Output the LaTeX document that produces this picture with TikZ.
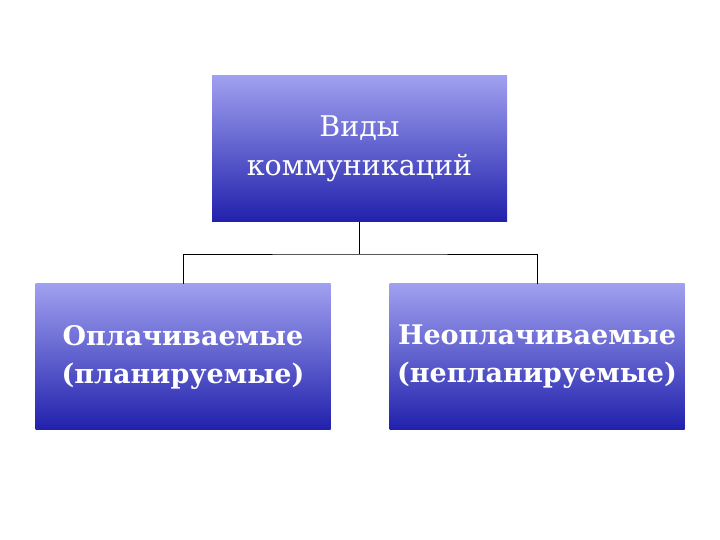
\documentclass[tikz,border=0pt]{standalone}
\usepackage{fontspec}
\setmainfont{DejaVu Serif}
\usepackage{xcolor}
\usetikzlibrary{positioning}

\definecolor{boxtop}{RGB}{160,160,240}
\definecolor{boxbot}{RGB}{32,32,172}

\tikzset{
	kind/.style={minimum width=295pt, minimum height=146pt, inner sep=0pt,
		top color=boxtop, bottom color=boxbot, text=white, align=center,
		font=\fontsize{28.5}{39}\selectfont},
	kindbold/.style={kind, font=\fontsize{27}{38}\selectfont\bfseries},
	link/.style={draw=black, line width=0.9pt}
}

\begin{document}
\begin{tikzpicture}[x=1pt,y=1pt]
			\useasboundingbox (0,0) rectangle (720,540);
			
			% корневой блок
			\node[kind] (root) at (359.5,391) {Виды\\коммуникаций};
			
			% два вида
			\node[kindbold] (paid)   at (183,183) {Оплачиваемые\\(планируемые)};
			\node[kindbold] (unpaid) at (537,183) {Неоплачиваемые\\(непланируемые)};
			
			% точка разветвления
			\coordinate (fork) at (359.5,286);
			
			\draw[link] (root.south) -- (fork);
			\draw[link] (paid.north) |- (fork) -| (unpaid.north);
		\end{tikzpicture}
\end{document}
